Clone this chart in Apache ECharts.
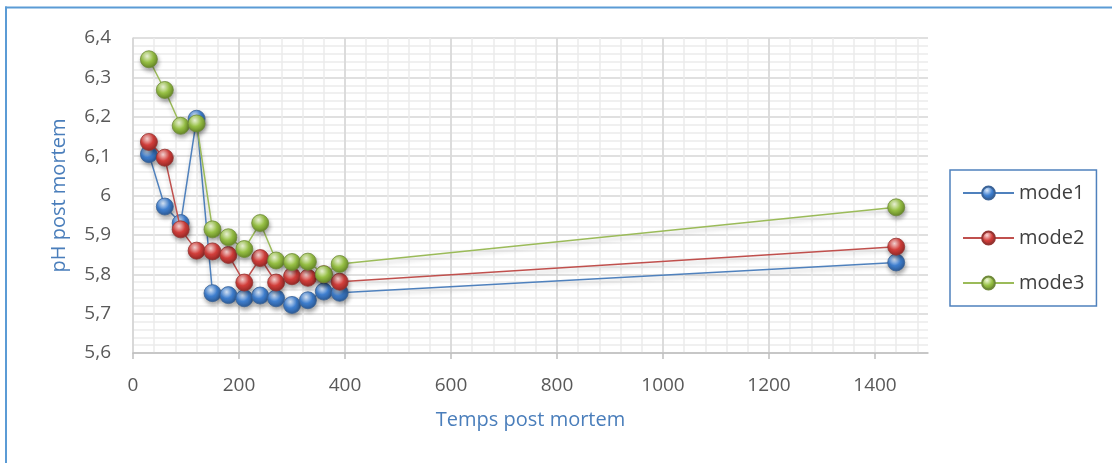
<!DOCTYPE html>
<html>
<head>
<meta charset="utf-8">
<script src="https://cdn.jsdelivr.net/npm/echarts@6/dist/echarts.min.js"></script>
<style>
  html, body { margin: 0; padding: 0; background: #ffffff; }
  #chart { width: 1112px; height: 463px; }
</style>
</head>
<body>
<div id="chart"></div>
<script>
// Post-mortem time (minutes) at which pH was measured
const times = [30, 60, 90, 120, 150, 180, 210, 240, 270, 300, 330, 360, 390, 1440];

// pH readings per mode
const mode1 = [6.105, 5.972, 5.930, 6.195, 5.752, 5.747, 5.739, 5.746, 5.739, 5.722, 5.734, 5.756, 5.753, 5.830];
const mode2 = [6.136, 6.096, 5.914, 5.860, 5.858, 5.849, 5.779, 5.841, 5.779, 5.795, 5.791, 5.800, 5.781, 5.870];
const mode3 = [6.346, 6.268, 6.177, 6.183, 5.914, 5.894, 5.864, 5.930, 5.835, 5.831, 5.832, 5.800, 5.826, 5.970];

const seriesNames = ['mode1', 'mode2', 'mode3'];

// Labelled axis ticks
const xTicks = [0, 200, 400, 600, 800, 1000, 1200, 1400];
const yTicks = [5.6, 5.7, 5.8, 5.9, 6.0, 6.1, 6.2, 6.3, 6.4];

const palette = [
  { base: '#4F81BD', ball: '#3f7fcf', light: '#dbe9fb', dark: '#2a568f', edge: '#3b6397' },
  { base: '#C0504D', ball: '#d23f3b', light: '#fbd9d8', dark: '#8e2624', edge: '#953532' },
  { base: '#9BBB59', ball: '#97c045', light: '#f1f9dc', dark: '#5f7f22', edge: '#6f8a3a' }
];

function sphere(c) {
  return {
    type: 'radial', x: 0.4, y: 0.32, r: 0.72,
    colorStops: [
      { offset: 0, color: c.light },
      { offset: 0.5, color: c.ball },
      { offset: 1, color: c.dark }
    ]
  };
}

function pairs(ys) {
  return times.map((t, i) => [t, ys[i]]);
}

const values = [mode1, mode2, mode3];
const major = '#d6d6d6';
const minor = '#ebebeb';
const labelFont = { fontSize: 19, color: '#595959', fontFamily: 'Open Sans' };
const nameFont = { fontSize: 20, color: '#4a7ebb', fontFamily: 'Open Sans' };

const chart = echarts.init(document.getElementById('chart'), null, { renderer: 'canvas' });

chart.setOption({
  backgroundColor: '#ffffff',
  animation: false,
  textStyle: { fontFamily: 'Open Sans' },
  graphic: [
    { type: 'line', shape: { x1: 5, y1: 7.5, x2: 1112, y2: 7.5 }, style: { stroke: '#5B9BD5', lineWidth: 2 }, silent: true },
    { type: 'line', shape: { x1: 6, y1: 6.5, x2: 6, y2: 463 }, style: { stroke: '#5B9BD5', lineWidth: 2 }, silent: true }
  ],
  grid: { left: 133, right: 184, top: 38, bottom: 110, containLabel: false },
  legend: {
    orient: 'vertical',
    left: 950, top: 170,
    padding: [13, 12, 13, 12],
    itemGap: 25,
    itemWidth: 51,
    itemHeight: 16,
    borderColor: '#4F81BD',
    borderWidth: 1.5,
    textStyle: { fontSize: 20, color: '#404040', fontFamily: 'Open Sans' },
    data: seriesNames
  },
  xAxis: [
    {
      // main time axis: labels, ticks, major gridlines every 200 min
      type: 'value',
      min: 0, max: 1500, interval: 200,
      position: 'bottom',
      z: 2,
      name: 'Temps post mortem',
      nameLocation: 'middle',
      nameGap: 57,
      nameTextStyle: nameFont,
      axisLine: { show: true, lineStyle: { color: '#bfbfbf', width: 1.5 } },
      axisTick: { show: true, length: 6, lineStyle: { color: '#bfbfbf', width: 1.5 }, customValues: xTicks },
      axisLabel: Object.assign({ customValues: xTicks, margin: 23, formatter: v => String(v) }, labelFont),
      splitLine: { show: true, showMaxLine: false, lineStyle: { color: major, width: 1.5 } }
    },
    {
      // minor gridlines every 40 min
      type: 'value',
      min: 0, max: 1500, interval: 40,
      position: 'bottom',
      z: 0,
      axisLine: { show: false },
      axisTick: { show: false },
      axisLabel: { show: false },
      splitLine: { show: true, showMinLine: false, showMaxLine: false, lineStyle: { color: minor, width: 1.5 } }
    }
  ],
  yAxis: {
    type: 'value',
    min: 5.6, max: 6.4, interval: 0.1,
    name: 'pH post mortem',
    nameLocation: 'middle',
    nameRotate: 90,
    nameGap: 64,
    nameTextStyle: nameFont,
    axisLine: { show: true, lineStyle: { color: major, width: 1.5 } },
    axisTick: { show: false },
    minorTick: { show: false, splitNumber: 5 },
    axisLabel: Object.assign({
      customValues: yTicks,
      margin: 22,
      formatter: v => String(Math.round(v * 10) / 10).replace('.', ',')
    }, labelFont),
    splitLine: { show: true, lineStyle: { color: major, width: 1.5 } },
    minorSplitLine: { show: true, lineStyle: { color: minor, width: 1.5 } }
  },
  series: seriesNames.map((name, k) => ({
    name: name,
    type: 'line',
    xAxisIndex: 0,
    data: pairs(values[k]),
    symbol: 'circle',
    symbolSize: 17,
    z: 2 + k,
    lineStyle: {
      color: palette[k].base, width: 1.5,
      shadowColor: 'rgba(0,0,0,0.22)', shadowBlur: 4, shadowOffsetY: 3
    },
    itemStyle: {
      color: sphere(palette[k]),
      borderColor: palette[k].edge,
      borderWidth: 0.8,
      shadowColor: 'rgba(0,0,0,0.35)', shadowBlur: 4, shadowOffsetX: 1, shadowOffsetY: 3
    },
    emphasis: { disabled: true }
  }))
});
</script>
</body>
</html>
